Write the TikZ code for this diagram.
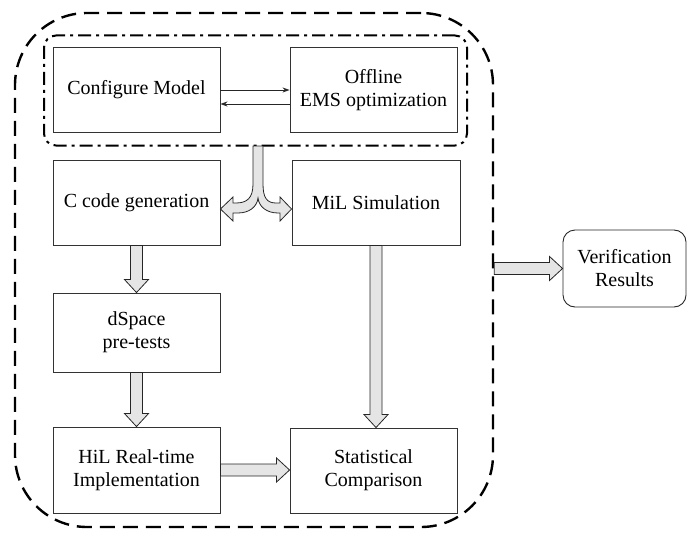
\documentclass[tikz,border=0pt]{standalone}
\usepackage{fontspec}
\setmainfont{Liberation Serif}
\usetikzlibrary{calc,arrows.meta}

\tikzset{
  txt/.style={font=\fontsize{20}{23}\selectfont, align=center, text=black},
  blk/.style={txt, draw=black!80, line width=0.9pt, minimum width=167pt,
              minimum height=85pt, inner sep=2pt},
  resbox/.style={txt, draw=black!85, line width=0.9pt, rounded corners=12pt,
                 minimum width=123pt, minimum height=77pt, inner sep=2pt},
  outerframe/.style={draw=black, line width=2.4pt, dash pattern=on 15pt off 8pt,
                     rounded corners=72pt, minimum width=478pt, minimum height=514pt},
  innerframe/.style={draw=black, line width=2pt,
                     dash pattern=on 13pt off 5pt on 3pt off 5pt,
                     rounded corners=12pt, minimum width=423pt, minimum height=110pt},
  fatfill/.style={draw=black!85, line width=0.8pt, fill=black!10, line join=miter},
  smallarr/.style={draw=black!85, line width=0.8pt, -{Stealth[length=7pt,width=5pt]}},
}

% hollow block arrow from #1 to #2
\newcommand\fatarrow[2]{%
  \path ($(#2)!13pt!(#1)$) coordinate (fa-h);
  \draw[fatfill] ($(#1)!6pt!90:(#2)$) -- ($(fa-h)!6pt!90:(#2)$)
    -- ($(fa-h)!12pt!90:(#2)$) -- (#2) -- ($(fa-h)!12pt!-90:(#2)$)
    -- ($(fa-h)!6pt!-90:(#2)$) -- ($(#1)!6pt!-90:(#2)$) -- cycle;
}

\begin{document}
\begin{tikzpicture}[x=1pt, y=-1pt]
\useasboundingbox (0,0) rectangle (687,532);

% frames
\node[outerframe] (outer) at (254,270) {};
\node[innerframe] (inner) at (255.5,90.5) {};

% blocks
\node[blk] (conf) at (136.5,90) {Configure Model};
\node[blk] (offl) at (373.5,90) {Offline\\EMS optimization};
\node[blk] (ccode) at (136.5,202.5) {C code generation};
\node[blk, minimum width=168pt] (mil) at (376,202.5) {MiL Simulation};
\node[blk, minimum height=79pt] (dsp) at (136.5,332.5) {dSpace\\pre-tests};
\node[blk, minimum height=86pt] (hil) at (136.5,470) {HiL Real-time\\Implementation};
\node[blk] (stat) at (373.5,470.5) {Statistical\\Comparison};
\node[resbox] (ver) at (624.5,268.5) {Verification\\Results};

% thin arrows between the optimisation blocks
\draw[smallarr] (conf.east) -- (offl.west);
\draw[smallarr] ([yshift=-14pt]offl.west) -- ([yshift=-14pt]conf.east);

% split arrow from the inner frame to code generation and MiL
\coordinate (lt) at (ccode.east |- 0,209);
\coordinate (rt) at (mil.west |- 0,209);
\draw[fatfill] (253,146) -- (253,184) .. controls (253,198) and (247,203) .. (236,203)
  -- (233,203) -- (233,197) -- (lt) -- (233,221) -- (233,213) -- (238,213)
  .. controls (249,213) and (257,207) .. (258,198)
  .. controls (259,207) and (267,213) .. (278,213)
  -- (280,213) -- (280,221) -- (rt) -- (280,197) -- (280,203) -- (276,203)
  .. controls (267,203) and (263,198) .. (263,184) -- (263,146) -- cycle;

% block arrows
\fatarrow{ccode.south}{dsp.north}
\fatarrow{dsp.south}{hil.north}
\coordinate (min) at (mil.south |- stat.north);
\fatarrow{mil.south}{min}
\coordinate (sin) at (stat.west |- hil.east);
\fatarrow{hil.east}{sin}
\coordinate (vin) at (outer.east |- ver.west);
\fatarrow{vin}{ver.west}
\end{tikzpicture}
\end{document}
